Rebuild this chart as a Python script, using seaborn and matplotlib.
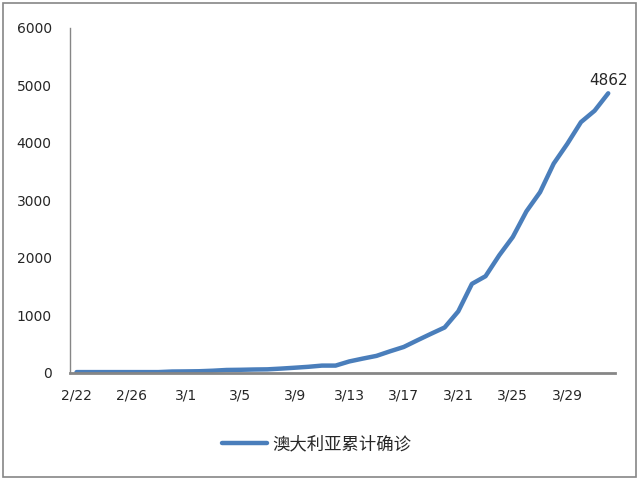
import matplotlib
matplotlib.use("Agg")
import matplotlib.pyplot as plt
import seaborn as sns
import pandas as pd
from matplotlib.patches import Rectangle

# === DATOS ===
fechas = ["2/22", "2/23", "2/24", "2/25", "2/26", "2/27", "2/28", "2/29",
          "3/1", "3/2", "3/3", "3/4", "3/5", "3/6", "3/7", "3/8", "3/9", "3/10",
          "3/11", "3/12", "3/13", "3/14", "3/15", "3/16", "3/17", "3/18", "3/19",
          "3/20", "3/21", "3/22", "3/23", "3/24", "3/25", "3/26", "3/27", "3/28",
          "3/29", "3/30", "3/31", "4/1"]
casos = [15, 15, 15, 15, 15, 15, 15, 25,
         27, 30, 39, 52, 55, 60, 63, 76, 91, 107,
         128, 128, 200, 250, 297, 377, 452, 568, 681,
         791, 1071, 1549, 1682, 2044, 2364, 2810, 3143, 3640,
         3984, 4361, 4559, 4862]
serie = "澳大利亚累计确诊"
y_ticks = [0, 1000, 2000, 3000, 4000, 5000, 6000]

df = pd.DataFrame({"idx": range(len(fechas)), "casos": casos})

sns.set_style("white")
plt.rcParams["font.family"] = ["DejaVu Sans", "Noto Sans CJK SC"]

fig = plt.figure(figsize=(6.4, 4.8), dpi=100)
ax = fig.add_axes([0.109, 0.223, 0.852, 0.719])

sns.lineplot(data=df, x="idx", y="casos", color="#4A7EBB", linewidth=3.2,
             label=serie, ax=ax, legend=False)

ax.set_xlim(-0.5, len(fechas) - 0.5)
ax.set_ylim(0, 6000)
ax.set_yticks(y_ticks)
ax.set_yticklabels([str(v) for v in y_ticks], fontsize=10)
pos = list(range(0, len(fechas), 4))
ax.set_xticks(pos)
ax.set_xticklabels([fechas[i] for i in pos], fontsize=10)
ax.tick_params(axis="x", length=0, pad=11)
ax.tick_params(axis="y", length=0, pad=13)
ax.set_xlabel("")
ax.set_ylabel("")

for s in ["top", "right"]:
    ax.spines[s].set_visible(False)
for s in ["left", "bottom"]:
    ax.spines[s].set_color("#868686")
ax.spines["bottom"].set_linewidth(2)
ax.spines["left"].set_linewidth(1)

# etiqueta del ultimo valor
ax.annotate(str(casos[-1]), (len(casos) - 1, casos[-1]), xytext=(0, 4),
            textcoords="offset points", ha="center", va="bottom", fontsize=11)

handles, labels = ax.get_legend_handles_labels()
fig.legend(handles, labels, loc="center", bbox_to_anchor=(0.495, 0.075),
           frameon=False, handlelength=2.6, handletextpad=0.3,
           prop={"family": ["Noto Sans CJK SC"], "size": 12.5})

# borde exterior
fig.patches.append(Rectangle((0.004, 0.006), 0.99, 0.987, transform=fig.transFigure,
                             fill=False, edgecolor="#868686", linewidth=1.2))

fig.savefig("out.png", dpi=100)
